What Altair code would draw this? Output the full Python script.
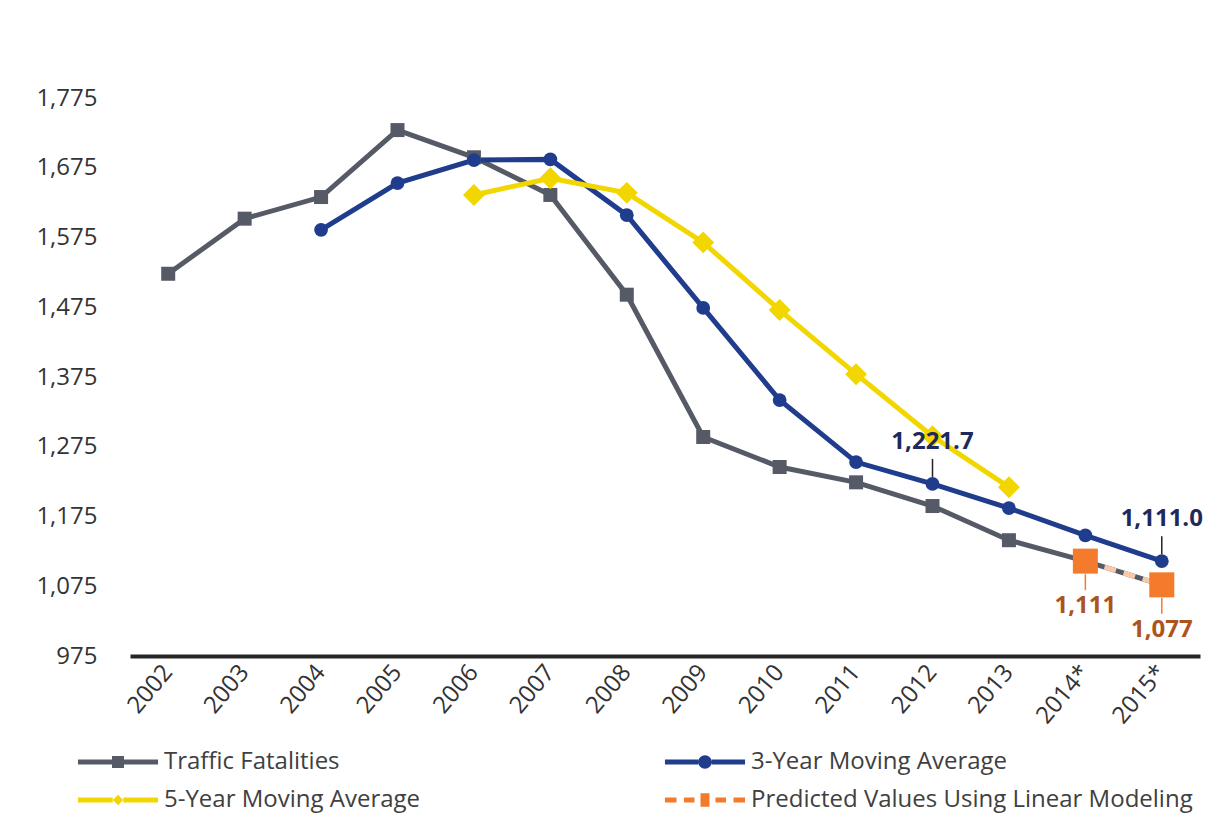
import altair as alt
import pandas as pd

# ---- data ----
years = ["2002", "2003", "2004", "2005", "2006", "2007", "2008", "2009",
         "2010", "2011", "2012", "2013", "2014*", "2015*"]
fatalities = [1523, 1602, 1633, 1729, 1690, 1636, 1493, 1289, 1246, 1224,
              1190, 1141, 1111, 1077]
fatal_markers = [1523, 1602, 1633, 1729, 1690, 1636, 1493, 1289, 1246, 1224,
                 1190, 1141, None, None]
ma3 = [None, None, 1586, 1653, 1686, 1687, 1607, 1474, 1342, 1253, 1221.7,
       1187, 1148, 1111.0]
ma5 = [None, None, None, None, 1636, 1660, 1639, 1568, 1471, 1379, 1290,
       1217, None, None]
predicted = [None] * 12 + [1111, 1077]

ma3_label_years = ["2012", "2015*"]
ma3_label_values = [1221.7, 1111.0]
ma3_label_texts = ["1,221.7", "1,111.0"]
pred_label_years = ["2014*", "2015*"]
pred_label_values = [1111, 1077]
pred_label_texts = ["1,111", "1,077"]

# legend order (filled column by column): Traffic, 5-Year | 3-Year, Predicted
series_names = ["Traffic Fatalities", "5-Year Moving Average",
                "3-Year Moving Average", "Predicted Values Using Linear Modeling"]
y_ticks = [975, 1075, 1175, 1275, 1375, 1475, 1575, 1675, 1775]

# ---- styling ----
GRAY = "#555a66"
BLUE = "#1f3d8c"
YELLOW = "#f2d600"
ORANGE = "#f47a2c"
PEACH = "#f8c9a8"
NAVY = "#1f2a5c"
BROWN = "#ad531c"
FONT = "Open Sans"

df = pd.DataFrame({"year": years, "fatal": fatalities, "fatal_m": fatal_markers,
                   "ma3": ma3, "ma5": ma5, "pred": predicted})
ann3 = pd.DataFrame({"year": ma3_label_years, "value": ma3_label_values,
                     "text": ma3_label_texts})
annp = pd.DataFrame({"year": pred_label_years, "value": pred_label_values,
                     "text": pred_label_texts})
legend_df = pd.DataFrame({"series": series_names, "year": years[:4],
                          "v": fatalities[:4]})

x_enc = alt.X("year:N", sort=years, title=None,
              axis=alt.Axis(labelAngle=-50, labelFont=FONT, labelFontSize=24,
                            labelColor="#333333", ticks=False, domainColor="#262626",
                            domainWidth=4, grid=False, labelPadding=12))
y_scale = alt.Scale(domain=[975, 1775], nice=False, zero=False)


def yq(field):
    return alt.Y(f"{field}:Q", scale=y_scale, title=None,
                 axis=alt.Axis(values=y_ticks, format=",d", domain=False, ticks=False,
                               grid=False, labelFont=FONT, labelFontSize=24,
                               labelColor="#333333", labelPadding=33))


base = alt.Chart(df).encode(x=x_enc)

fatal_line = base.mark_line(color=GRAY, strokeWidth=5).encode(y=yq("fatal"))
fatal_pts = base.mark_point(shape="square", filled=True, size=196, color=GRAY,
                            opacity=1).encode(y=yq("fatal_m"))
ma3_line = base.mark_line(color=BLUE, strokeWidth=5).encode(y=yq("ma3"))
ma3_pts = base.mark_point(shape="circle", filled=True, size=190, color=BLUE,
                          opacity=1).encode(y=yq("ma3"))
ma5_line = base.mark_line(color=YELLOW, strokeWidth=5).encode(y=yq("ma5"))
ma5_pts = base.mark_point(shape="diamond", filled=True, size=480, color=YELLOW,
                          opacity=1).encode(y=yq("ma5"))
pred_line = base.mark_line(color=PEACH, strokeWidth=5,
                           strokeDash=[12, 8]).encode(y=yq("pred"))
pred_pts = base.mark_point(shape="square", filled=True, size=625, color=ORANGE,
                           opacity=1).encode(y=yq("pred"))

a3 = alt.Chart(ann3).encode(x=alt.X("year:N", sort=years), y=alt.Y("value:Q", scale=y_scale))
a3_rule = a3.mark_rule(color="#222222", strokeWidth=1.5, yOffset=-7,
                       y2Offset=-25).encode(y2="value:Q")
a3_text = a3.mark_text(dy=-42, font=FONT, fontSize=24, fontWeight="bold",
                       color=NAVY).encode(text="text:N")

ap = alt.Chart(annp).encode(x=alt.X("year:N", sort=years), y=alt.Y("value:Q", scale=y_scale))
ap_rule = ap.mark_rule(color=ORANGE, strokeWidth=1.5, yOffset=13,
                       y2Offset=29).encode(y2="value:Q")
ap_text = ap.mark_text(dy=45, font=FONT, fontSize=24, fontWeight="bold",
                       color=BROWN).encode(text="text:N")

# legend symbols: line with marker in the middle (custom paths, unit = 15px)
P_GRAY = ("M-2.67,-0.17L-0.4,-0.17L-0.4,0.17L-2.67,0.17Z "
          "M0.4,-0.17L2.67,-0.17L2.67,0.17L0.4,0.17Z "
          "M-0.4,-0.4L0.4,-0.4L0.4,0.4L-0.4,0.4Z")
P_BLUE = ("M-2.67,-0.17L-0.45,-0.17L-0.45,0.17L-2.67,0.17Z "
          "M0.45,-0.17L2.67,-0.17L2.67,0.17L0.45,0.17Z "
          "M0.45,0A0.45,0.45 0 1,1 -0.45,0A0.45,0.45 0 1,1 0.45,0Z")
P_YELLOW = ("M-2.67,-0.17L-0.35,-0.17L-0.35,0.17L-2.67,0.17Z "
            "M0.35,-0.17L2.67,-0.17L2.67,0.17L0.35,0.17Z "
            "M-0.35,0L0,-0.35L0.35,0L0,0.35Z")
P_PRED = ("M-2.67,-0.17L-1.9,-0.17L-1.9,0.17L-2.67,0.17Z "
          "M-1.4,-0.17L-0.7,-0.17L-0.7,0.17L-1.4,0.17Z "
          "M0.7,-0.17L1.4,-0.17L1.4,0.17L0.7,0.17Z "
          "M1.9,-0.17L2.67,-0.17L2.67,0.17L1.9,0.17Z "
          "M-0.3,-0.45L0.3,-0.45L0.3,0.45L-0.3,0.45Z")

legend_common = dict(title=None, orient="none", legendX=-27, legendY=649,
                     columns=2, columnPadding=243, rowPadding=11,
                     symbolSize=900, symbolStrokeWidth=0, symbolOpacity=1,
                     labelFont=FONT, labelFontSize=24, labelColor="#404040",
                     labelOffset=31, labelLimit=700)

legend_layer = alt.Chart(legend_df).transform_filter("false").mark_point(
    filled=True, opacity=1).encode(
    x=alt.X("year:N", sort=years),
    y=alt.Y("v:Q", scale=y_scale),
    color=alt.Color("series:N", sort=series_names,
                    scale=alt.Scale(domain=series_names,
                                    range=[GRAY, YELLOW, BLUE, ORANGE]),
                    legend=alt.Legend(**legend_common)),
    shape=alt.Shape("series:N", sort=series_names,
                    scale=alt.Scale(domain=series_names,
                                    range=[P_GRAY, P_YELLOW, P_BLUE, P_PRED]),
                    legend=alt.Legend(**legend_common)),
)

chart = alt.layer(
    fatal_line, ma3_line, ma5_line, pred_line,
    fatal_pts, ma3_pts, ma5_pts, pred_pts,
    a3_rule, a3_text, ap_rule, ap_text, legend_layer,
).properties(
    width=1070, height=558,
    autosize=alt.AutoSizeParams(type="none"),
    padding={"left": 122, "top": 90, "right": 19, "bottom": 169},
    background="white",
).configure_view(stroke=None)

chart.save("out.html", embed_options={"renderer": "svg", "actions": False})
